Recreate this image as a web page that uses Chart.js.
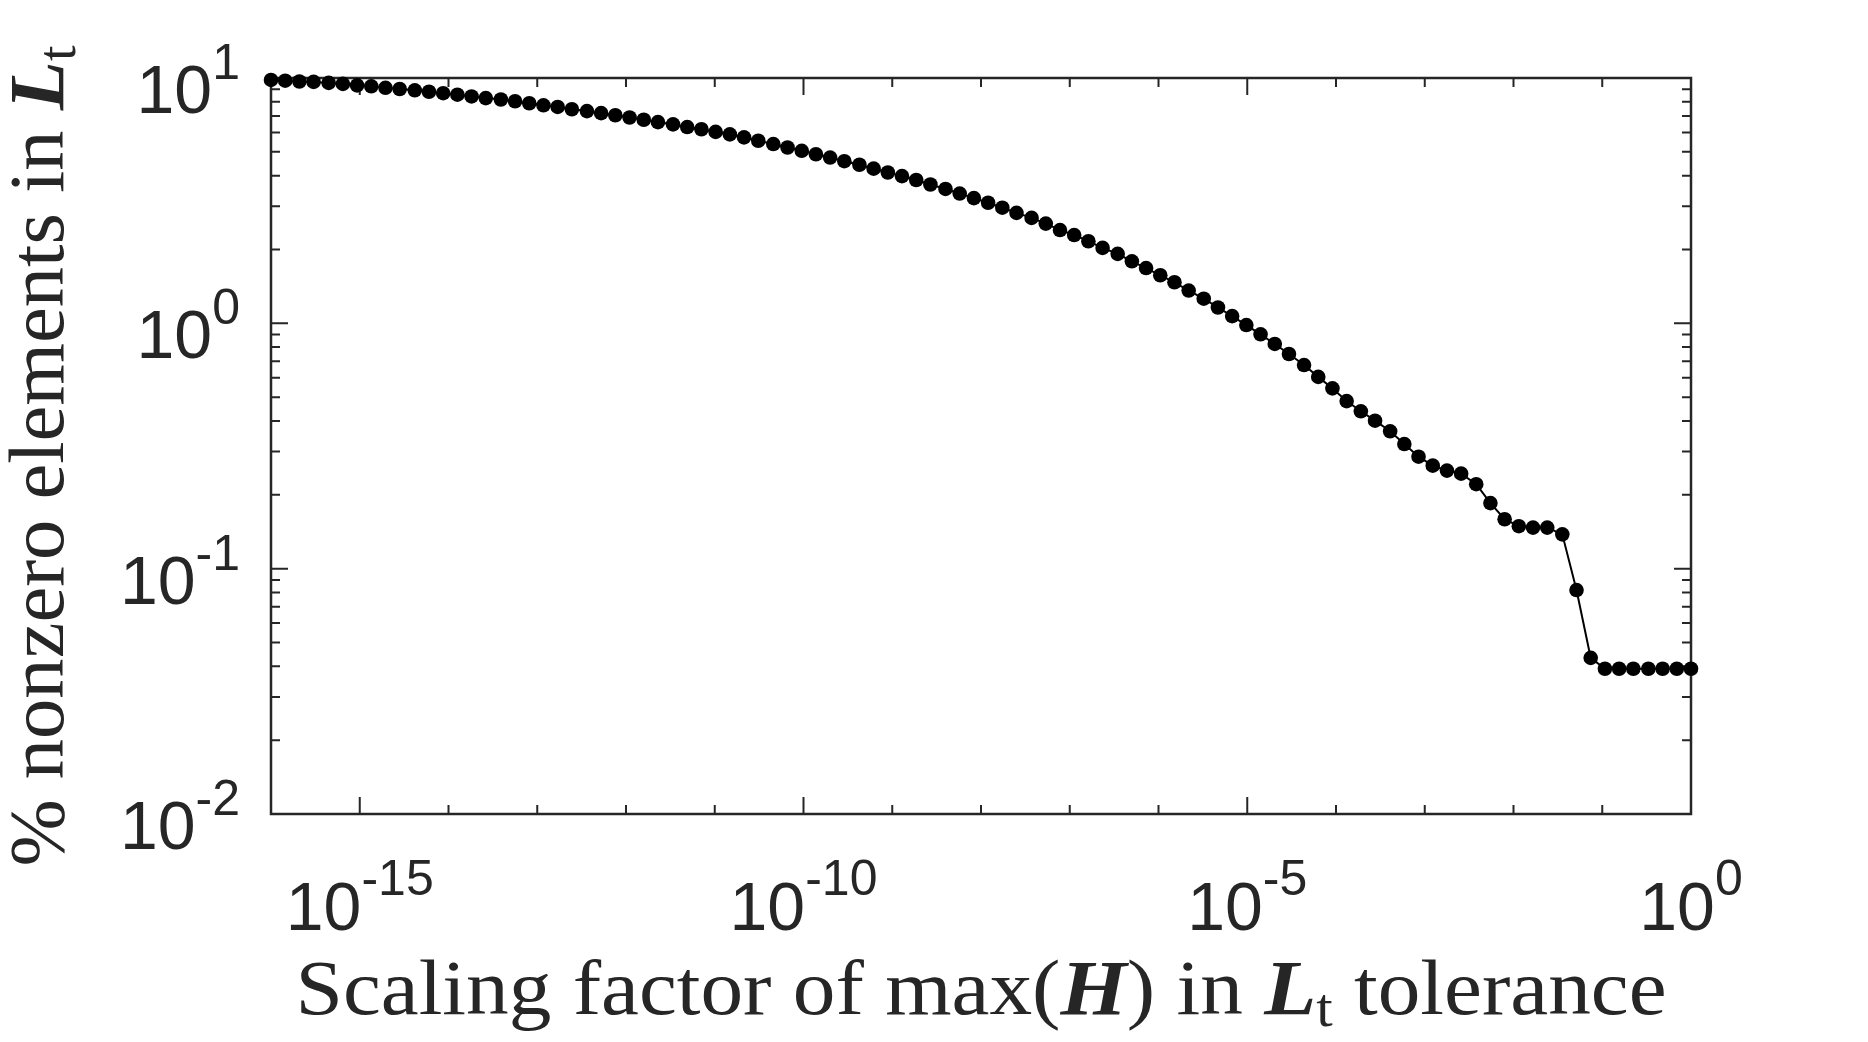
<!DOCTYPE html>
<html lang="en">
<head>
  <meta charset="UTF-8">
  <title>Nonzero elements vs tolerance</title>
  <script src="https://cdn.jsdelivr.net/npm/chart.js"></script>
  <style>
    html, body { margin: 0; padding: 0; background: #fff; }
    #wrap { width: 1868px; height: 1042px; position: relative; }
  </style>
</head>
<body>
  <div id="wrap"><canvas id="grafico"></canvas></div>

  <script>
    // exponent of the scaling factor (x = 10^e), 100 samples from 1e-16 to 1e0
    const tolExp = [
      -16.00, -15.84, -15.68, -15.52, -15.35, -15.19, -15.03, -14.87, -14.71, -14.55,
      -14.38, -14.22, -14.06, -13.90, -13.74, -13.58, -13.41, -13.25, -13.09, -12.93,
      -12.77, -12.61, -12.44, -12.28, -12.12, -11.96, -11.80, -11.64, -11.47, -11.31,
      -11.15, -10.99, -10.83, -10.67, -10.51, -10.34, -10.18, -10.02, -9.86, -9.70,
      -9.54, -9.37, -9.21, -9.05, -8.89, -8.73, -8.57, -8.40, -8.24, -8.08,
      -7.92, -7.76, -7.60, -7.43, -7.27, -7.11, -6.95, -6.79, -6.63, -6.46,
      -6.30, -6.14, -5.98, -5.82, -5.66, -5.49, -5.33, -5.17, -5.01, -4.85,
      -4.69, -4.53, -4.36, -4.20, -4.04, -3.88, -3.72, -3.56, -3.39, -3.23,
      -3.07, -2.91, -2.75, -2.59, -2.42, -2.26, -2.10, -1.94, -1.78, -1.62,
      -1.45, -1.29, -1.13, -0.97, -0.81, -0.65, -0.48, -0.32, -0.16, 0.00
    ];

    // % nonzero elements in L_t
    const nnzPct = [
      9.82, 9.75, 9.68, 9.64, 9.55, 9.46, 9.33, 9.25, 9.12, 9.02,
      8.91, 8.79, 8.67, 8.55, 8.41, 8.28, 8.17, 8.04, 7.89, 7.74,
      7.62, 7.46, 7.33, 7.19, 7.05, 6.90, 6.76, 6.61, 6.47, 6.31,
      6.18, 6.03, 5.89, 5.73, 5.55, 5.38, 5.21, 5.05, 4.89, 4.74,
      4.58, 4.43, 4.27, 4.12, 3.98, 3.84, 3.68, 3.53, 3.38, 3.24,
      3.10, 2.96, 2.82, 2.69, 2.55, 2.40, 2.29, 2.16, 2.03, 1.92,
      1.79, 1.68, 1.57, 1.47, 1.36, 1.26, 1.16, 1.07, 0.984, 0.902,
      0.824, 0.750, 0.676, 0.605, 0.543, 0.482, 0.438, 0.401, 0.363, 0.322,
      0.286, 0.263, 0.251, 0.244, 0.221, 0.185, 0.159, 0.149, 0.147, 0.147,
      0.138, 0.0818, 0.0433, 0.0391, 0.0391, 0.0391, 0.0391, 0.0391, 0.0391, 0.0391
    ];

    // labelled decades
    const xTickExp = [-15, -10, -5, 0];
    const yTickExp = [-2, -1, 0, 1];

    const axisColor = "#262626";
    const sans = '"Liberation Sans", Arial, Helvetica, sans-serif';
    const serif = '"Liberation Serif", "DejaVu Serif", serif';

    // draws "10" with a superscript exponent
    function drawPow(ctx, exp, x, yBase, ySup, align) {
      const base = "10", sup = String(exp);
      ctx.font = "68px " + sans;
      const wb = ctx.measureText(base).width;
      ctx.font = "50px " + sans;
      const ws = ctx.measureText(sup).width;
      const total = wb + ws;
      const left = align === "center" ? x - total / 2 : x - total;
      ctx.fillStyle = axisColor;
      ctx.textAlign = "left";
      ctx.textBaseline = "alphabetic";
      ctx.font = "68px " + sans;
      ctx.fillText(base, left, yBase);
      ctx.font = "50px " + sans;
      ctx.fillText(sup, left + wb, ySup);
    }

    // draws mixed-font text centered on (0,0), stretched to a target width
    function drawRich(ctx, parts, targetW) {
      let total = 0;
      parts.forEach(p => { ctx.font = p.f; p.w = ctx.measureText(p.t).width; total += p.w; });
      const k = targetW / total;
      ctx.save();
      ctx.scale(k, 1);
      let x = -total / 2;
      ctx.fillStyle = axisColor;
      ctx.textAlign = "left";
      ctx.textBaseline = "alphabetic";
      parts.forEach(p => {
        ctx.font = p.f;
        ctx.fillText(p.t, x, p.dy || 0);
        x += p.w;
      });
      ctx.restore();
    }

    const fNorm = "78px " + serif;
    const fBold = "italic bold 78px " + serif;
    const fSub = "54px " + serif;

    const axesPlugin = {
      id: "matlabAxes",
      beforeDatasetsDraw(chart) {
        const ctx = chart.ctx;
        const a = chart.chartArea;
        const xs = chart.scales.x, ys = chart.scales.y;
        ctx.save();
        ctx.strokeStyle = axisColor;

        // ticks pointing inward, on all four sides
        ctx.lineWidth = 2;
        ctx.beginPath();
        for (let e = -16; e <= 0; e++) {
          const px = xs.getPixelForValue(Math.pow(10, e));
          const len = xTickExp.includes(e) ? 17 : 9;
          ctx.moveTo(px, a.bottom); ctx.lineTo(px, a.bottom - len);
          ctx.moveTo(px, a.top); ctx.lineTo(px, a.top + len);
        }
        for (let e = -2; e <= 1; e++) {
          for (let m = 1; m <= 9; m++) {
            const v = m * Math.pow(10, e);
            if (v > 10 || (e === 1 && m > 1)) continue;
            const py = ys.getPixelForValue(v);
            const len = m === 1 ? 17 : 9;
            ctx.moveTo(a.left, py); ctx.lineTo(a.left + len, py);
            ctx.moveTo(a.right, py); ctx.lineTo(a.right - len, py);
          }
        }
        ctx.stroke();

        // box
        ctx.lineWidth = 2.5;
        ctx.strokeRect(a.left, a.top, a.right - a.left, a.bottom - a.top);

        // tick labels
        xTickExp.forEach(e => {
          const px = xs.getPixelForValue(Math.pow(10, e));
          drawPow(ctx, e, px, a.bottom + 116, a.bottom + 81, "center");
        });
        yTickExp.forEach(e => {
          const py = ys.getPixelForValue(Math.pow(10, e));
          drawPow(ctx, e, a.left - 31, py + 35, py + 1, "right");
        });

        // x title
        ctx.save();
        ctx.translate((a.left + a.right) / 2, 1014);
        drawRich(ctx, [
          { t: "Scaling factor of max(", f: fNorm },
          { t: "H", f: fBold },
          { t: ") in ", f: fNorm },
          { t: "L", f: fBold },
          { t: "t", f: fSub, dy: 12 },
          { t: " tolerance", f: fNorm }
        ], 1371);
        ctx.restore();

        // y title
        ctx.save();
        ctx.translate(63, 456);
        ctx.rotate(-Math.PI / 2);
        drawRich(ctx, [
          { t: "% nonzero elements in ", f: fNorm },
          { t: "L", f: fBold },
          { t: "t", f: fSub, dy: 12 }
        ], 821);
        ctx.restore();

        ctx.restore();
      }
    };

    const puntos = tolExp.map((e, i) => ({ x: Math.pow(10, e), y: nnzPct[i] }));

    new Chart(document.getElementById("grafico").getContext("2d"), {
      type: "scatter",
      data: {
        datasets: [{
          data: puntos,
          showLine: true,
          borderColor: "#000",
          borderWidth: 2,
          pointRadius: 7.3,
          pointBackgroundColor: "#000",
          pointBorderWidth: 0,
          pointHoverRadius: 7.3,
          clip: false
        }]
      },
      options: {
        responsive: true,
        maintainAspectRatio: false,
        animation: false,
        layout: { padding: { left: 271, top: 78, right: 177, bottom: 228 } },
        plugins: { legend: { display: false }, tooltip: { enabled: false } },
        scales: {
          x: { type: "logarithmic", min: 1e-16, max: 1, display: false },
          y: { type: "logarithmic", min: 0.01, max: 10, display: false }
        }
      },
      plugins: [axesPlugin]
    });
  </script>
</body>
</html>
